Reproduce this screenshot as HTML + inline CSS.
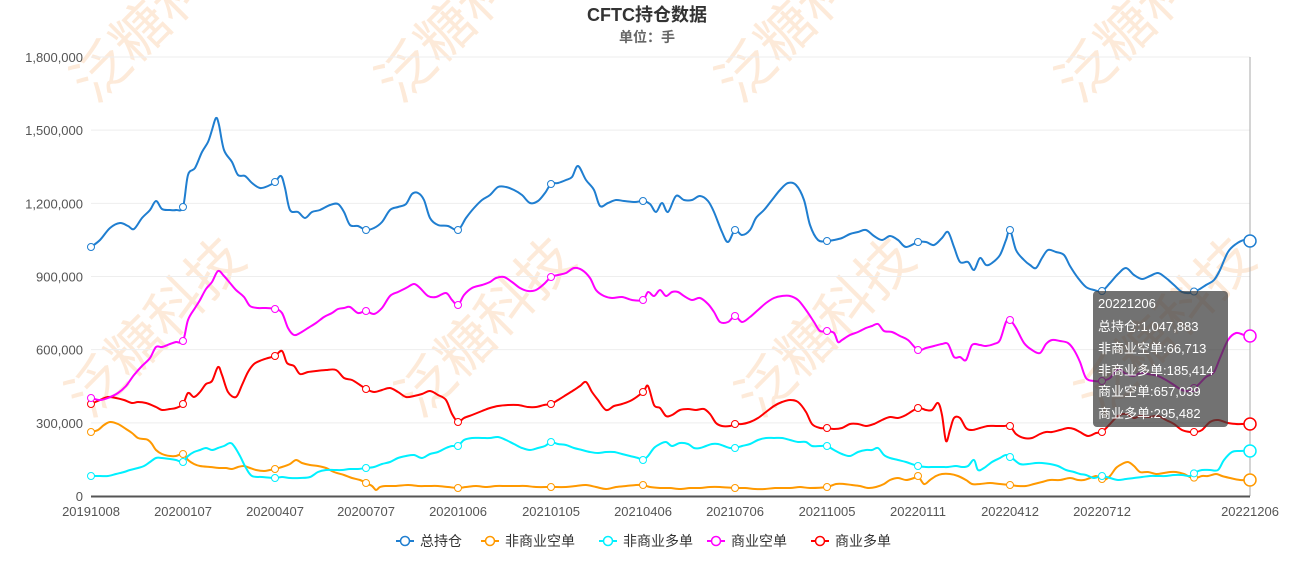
<!DOCTYPE html>
<html><head><meta charset="utf-8"><style>
body{margin:0;background:#fff;font-family:"Liberation Sans","Noto Sans CJK SC",sans-serif;}
svg{display:block}
</style></head><body>
<svg id="s" width="1295" height="562" xmlns="http://www.w3.org/2000/svg" font-family="Liberation Sans, Noto Sans CJK SC, sans-serif">
<g fill="#fde3cc" font-size="56" font-family="Noto Sans CJK SC, sans-serif" opacity="0.75">
<text transform="translate(95,105) rotate(-45)">泛糖科技</text>
<text transform="translate(400,105) rotate(-45)">泛糖科技</text>
<text transform="translate(740,105) rotate(-45)">泛糖科技</text>
<text transform="translate(1080,105) rotate(-45)">泛糖科技</text>
<text transform="translate(90,420) rotate(-45)">泛糖科技</text>
<text transform="translate(420,420) rotate(-45)">泛糖科技</text>
<text transform="translate(760,420) rotate(-45)">泛糖科技</text>
<text transform="translate(1100,420) rotate(-45)">泛糖科技</text>
</g>
<text x="647" y="21" text-anchor="middle" font-size="18" font-weight="bold" fill="#333">CFTC持仓数据</text>
<text x="647" y="42" text-anchor="middle" font-size="14" font-weight="bold" fill="#666">单位：手</text>
<g id="grid" stroke="#eee" stroke-width="1"></g>
<g id="ylab" font-size="13" fill="#555" text-anchor="end"></g>
<line x1="1250" y1="57" x2="1250" y2="496" stroke="#aaa"/>
<line x1="91" y1="496.5" x2="1250" y2="496.5" stroke="#555" stroke-width="2"/>
<g id="xlab" font-size="13" fill="#555" text-anchor="middle"></g>
<g id="series" fill="none" stroke-width="2"></g>
<g id="legend" font-size="14" fill="#333"></g>
<g>
<rect x="1093" y="291" width="135" height="136" rx="4" fill="rgba(60,60,60,0.72)"/>
<g fill="#fff" font-size="13">
<text x="1098" y="308">20221206</text>
<text x="1098" y="331">总持仓:1,047,883</text>
<text x="1098" y="353">非商业空单:66,713</text>
<text x="1098" y="375">非商业多单:185,414</text>
<text x="1098" y="396">商业空单:657,039</text>
<text x="1098" y="418">商业多单:295,482</text>
</g></g>
</svg>
<script>
const NS="http://www.w3.org/2000/svg";
function el(t,a,p,txt){const e=document.createElementNS(NS,t);for(const k in a)e.setAttribute(k,a[k]);if(txt!=null)e.textContent=txt;document.getElementById(p).appendChild(e);return e;}
const yl=["0","300,000","600,000","900,000","1,200,000","1,500,000","1,800,000"];
for(let i=0;i<7;i++){const y=496-i*439/6;if(i>0)el("line",{x1:91,x2:1250,y1:y,y2:y},"grid");el("text",{x:83,y:y+5},"ylab",yl[i]);}
const xs=[91,183,275,366,458,551,643,735,827,918,1010,1102,1250];
const xt=["20191008","20200107","20200407","20200707","20201006","20210105","20210406","20210706","20211005","20220111","20220412","20220712","20221206"];
xs.forEach((x,i)=>el("text",{x:x,y:516},"xlab",xt[i]));
function P(s){return s.match(/-?\d+(\.\d+)?/g).map(Number).reduce((a,v,i)=>{if(i%2==0)a.push([v]);else a[a.length-1].push(v);return a;},[]);}
const S={
blue:"(91,247),(100,240),(110,228),(120,223),(128,226),(134,229),(142,218),(150,210),(156,201),(162,209),(170,210),(176,210),(183,207),(188,175),(195,168),(202,152),(208,142),(212,130),(216,118),(219,125),(224,150),(232,162),(238,175),(245,176),(252,183),(260,188),(268,186),(275,182),(281,176),(285,188),(290,210),(298,212),(305,218),(312,212),(320,210),(330,205),(338,204),(344,212),(350,225),(358,226),(366,230),(374,228),(382,222),(390,210),(398,207),(406,204),(412,194),(418,193),(424,200),(430,218),(438,225),(448,226),(458,230),(466,218),(474,208),(482,200),(490,195),(498,187),(506,187),(514,190),(522,195),(530,203),(538,201),(545,193),(551,184),(558,183),(566,180),(572,177),(578,166),(586,180),(594,190),(600,206),(608,203),(616,200),(624,201),(635,202),(643,201),(650,204),(656,212),(662,203),(668,212),(676,196),(684,200),(692,200),(700,196),(708,201),(714,212),(722,232),(728,242),(735,230),(742,235),(750,230),(756,218),(764,210),(772,200),(780,190),(788,183),(796,185),(804,200),(810,225),(818,240),(827,241),(834,240),(842,238),(850,234),(858,232),(866,230),(874,236),(882,240),(890,236),(898,240),(906,247),(918,242),(926,242),(934,245),(942,238),(948,232),(954,247),(960,262),(968,262),(974,270),(980,258),(986,265),(992,263),(1000,255),(1006,240),(1010,230),(1016,250),(1024,260),(1030,265),(1036,268),(1042,258),(1048,250),(1056,252),(1064,255),(1070,266),(1078,278),(1086,287),(1094,290),(1102,291),(1110,283),(1118,274),(1126,268),(1134,275),(1142,279),(1150,276),(1158,273),(1166,278),(1174,285),(1182,292),(1190,293),(1198,290),(1206,285),(1214,280),(1220,270),(1228,252),(1236,244),(1244,240),(1250,241)",
mag:"(91,398),(100,400),(108,398),(118,393),(126,386),(134,375),(142,366),(150,358),(156,347),(162,347),(170,344),(176,342),(183,341),(188,320),(195,308),(200,300),(206,289),(212,282),(218,271),(224,276),(230,283),(236,290),(244,297),(250,306),(258,308),(266,308),(275,309),(282,313),(288,328),(294,335),(300,333),(308,328),(316,323),(324,317),(332,313),(338,309),(344,308),(350,307),(358,313),(366,311),(374,314),(382,308),(390,296),(398,292),(406,288),(414,284),(420,288),(428,296),(436,297),(446,293),(452,300),(458,305),(464,295),(472,288),(482,285),(490,282),(496,278),(504,277),(512,282),(520,288),(528,291),(536,290),(544,284),(551,277),(558,275),(566,273),(574,268),(582,270),(590,278),(596,290),(604,296),(612,298),(622,297),(632,300),(643,300),(648,292),(654,296),(660,290),(666,296),(672,292),(678,292),(684,296),(692,300),(700,298),(708,304),(714,312),(720,322),(728,322),(735,316),(742,322),(750,317),(758,310),(766,303),(774,298),(782,296),(790,296),(798,300),(806,310),(814,322),(820,331),(827,331),(834,333),(838,342),(842,340),(850,335),(858,332),(866,328),(872,326),(878,324),(884,331),(892,332),(900,336),(908,340),(918,350),(926,348),(934,346),(942,344),(948,344),(954,357),(960,357),(966,360),(972,345),(980,345),(986,346),(994,344),(1000,340),(1006,322),(1010,320),(1016,328),(1024,343),(1032,350),(1040,353),(1046,344),(1052,340),(1060,341),(1068,343),(1074,350),(1080,362),(1086,378),(1094,381),(1102,381),(1110,378),(1118,369),(1126,374),(1134,376),(1140,373),(1148,374),(1158,376),(1166,380),(1174,385),(1182,390),(1190,391),(1198,385),(1206,377),(1214,372),(1220,358),(1228,340),(1236,333),(1244,335),(1250,336)",
red:"(91,404),(100,400),(108,397),(116,398),(124,400),(132,403),(138,402),(146,403),(156,407),(162,410),(170,409),(176,408),(183,404),(188,393),(194,397),(200,392),(206,384),(212,381),(218,367),(222,375),(228,392),(236,397),(242,385),(248,372),(254,364),(262,360),(268,358),(275,356),(282,351),(287,363),(294,366),(300,374),(308,372),(316,371),(326,370),(336,370),(344,378),(352,380),(360,385),(366,389),(374,392),(382,390),(390,388),(398,392),(406,397),(414,396),(422,394),(430,391),(438,395),(446,400),(452,414),(458,422),(464,418),(472,415),(482,411),(490,408),(498,406),(508,405),(518,405),(528,407),(536,407),(544,405),(551,404),(558,400),(566,395),(574,390),(580,386),(586,382),(592,392),(598,400),(606,410),(614,406),(622,404),(632,400),(643,392),(648,386),(654,405),(660,408),(666,416),(672,415),(680,410),(688,409),(696,410),(704,409),(710,414),(716,423),(722,426),(730,426),(735,424),(742,424),(750,422),(758,418),(766,412),(774,406),(782,402),(790,400),(798,402),(806,412),(812,424),(820,428),(827,428),(834,429),(842,428),(850,424),(858,424),(866,426),(874,424),(882,420),(890,417),(898,418),(906,415),(918,408),(926,410),(932,410),(938,403),(942,415),(946,441),(950,430),(954,418),(960,418),(966,428),(972,430),(980,428),(988,426),(996,426),(1004,426),(1010,426),(1016,434),(1024,438),(1032,438),(1040,434),(1046,432),(1052,432),(1060,430),(1068,428),(1074,429),(1080,432),(1088,436),(1096,433),(1102,432),(1110,424),(1118,416),(1126,414),(1134,418),(1140,416),(1148,417),(1158,416),(1166,420),(1174,424),(1182,430),(1190,432),(1196,432),(1202,430),(1210,422),(1218,420),(1228,423),(1236,424),(1244,424),(1250,424)",
orange:"(91,432),(98,430),(104,425),(110,422),(118,424),(126,429),(132,433),(138,438),(144,439),(148,440),(152,444),(156,450),(162,454),(170,456),(176,456),(183,454),(188,460),(194,464),(200,466),(210,467),(220,468),(226,468),(232,469),(238,467),(244,466),(250,468),(256,470),(264,471),(270,470),(275,469),(282,467),(290,464),(296,460),(302,463),(310,465),(318,466),(326,468),(334,472),(344,475),(352,478),(360,480),(366,483),(372,486),(376,490),(380,487),(386,486),(396,486),(408,485),(418,486),(428,486),(438,486),(448,487),(458,488),(466,487),(476,486),(486,487),(496,486),(506,486),(516,486),(526,486),(536,487),(551,487),(566,487),(576,486),(586,485),(596,487),(606,489),(616,487),(626,486),(636,485),(643,485),(650,487),(660,488),(670,488),(680,489),(690,488),(700,488),(710,487),(720,487),(735,488),(745,488),(755,489),(765,489),(775,488),(790,488),(800,487),(810,488),(827,487),(836,484),(844,484),(852,485),(860,486),(868,488),(876,487),(884,484),(890,480),(898,478),(906,480),(914,478),(918,476),(924,484),(930,480),(936,476),(942,474),(950,474),(958,476),(966,480),(972,484),(980,484),(990,483),(1000,484),(1010,485),(1018,486),(1026,486),(1034,484),(1042,482),(1050,480),(1060,480),(1070,478),(1078,480),(1084,480),(1090,478),(1096,476),(1100,478),(1104,480),(1110,476),(1116,468),(1122,464),(1128,462),(1134,466),(1140,472),(1148,472),(1156,474),(1164,473),(1170,472),(1176,472),(1184,474),(1190,477),(1196,478),(1202,476),(1208,476),(1216,474),(1222,476),(1230,478),(1240,480),(1250,480)",
cyan:"(91,476),(100,476),(108,476),(116,474),(124,472),(130,470),(138,468),(144,466),(150,462),(156,458),(162,458),(170,459),(176,460),(183,462),(188,456),(194,452),(200,450),(206,448),(212,450),(218,448),(224,446),(230,443),(234,446),(240,456),(246,468),(252,476),(262,477),(275,478),(282,477),(290,478),(300,478),(310,477),(318,472),(326,470),(334,470),(342,470),(350,469),(358,469),(366,468),(374,467),(382,464),(390,462),(398,458),(406,456),(414,455),(422,458),(430,454),(438,452),(446,448),(452,446),(458,446),(464,440),(472,438),(482,438),(490,438),(498,437),(506,440),(514,444),(522,448),(530,450),(538,448),(545,446),(551,442),(558,444),(566,445),(574,448),(582,450),(590,452),(598,453),(606,452),(614,452),(622,454),(630,456),(638,458),(643,460),(648,456),(654,448),(660,444),(666,442),(672,446),(680,443),(688,444),(694,448),(700,448),(706,446),(712,444),(718,444),(724,446),(730,448),(735,448),(742,446),(750,444),(758,440),(766,438),(774,438),(782,438),(790,440),(798,442),(806,442),(812,446),(820,446),(827,446),(834,450),(842,454),(850,456),(858,452),(866,450),(872,450),(878,448),(884,455),(890,458),(898,460),(906,462),(918,466),(926,467),(934,467),(942,467),(948,467),(956,466),(962,467),(968,466),(974,460),(978,470),(984,468),(992,462),(1000,458),(1006,455),(1012,458),(1020,464),(1028,464),(1036,463),(1042,463),(1050,464),(1058,466),(1066,470),(1074,472),(1080,474),(1086,475),(1094,478),(1102,476),(1110,478),(1118,480),(1126,479),(1134,478),(1142,477),(1150,476),(1158,476),(1166,476),(1174,475),(1182,475),(1190,476),(1196,472),(1202,470),(1210,470),(1218,470),(1224,460),(1232,452),(1240,451),(1250,451)"};
function path(p){let d="M"+p[0][0]+","+p[0][1];for(let i=0;i<p.length-1;i++){const a=p[i-1]||p[i],b=p[i],c=p[i+1],e=p[i+2]||c;d+=" C"+(b[0]+(c[0]-a[0])/6).toFixed(1)+","+(b[1]+(c[1]-a[1])/6).toFixed(1)+" "+(c[0]-(e[0]-b[0])/6).toFixed(1)+","+(c[1]-(e[1]-b[1])/6).toFixed(1)+" "+c[0]+","+c[1];}return d;}
function yAt(p,x){for(let i=0;i<p.length-1;i++){if(x>=p[i][0]&&x<=p[i+1][0]){const t=(x-p[i][0])/(p[i+1][0]-p[i][0]||1);return p[i][1]+t*(p[i+1][1]-p[i][1]);}}return p[p.length-1][1];}
const order=[["orange","#ff9900"],["cyan","#00f0ff"],["red","#ff0000"],["mag","#ff00ff"],["blue","#1f7ed0"]];
const mx=[91,183,275,366,458,551,643,735,827,918,1010,1102,1194];
order.forEach(([k,c])=>{const p=P(S[k]);el("path",{d:path(p),stroke:c},"series");
mx.forEach(x=>el("circle",{cx:x,cy:yAt(p,x),r:3.5,fill:"#fff",stroke:c,"stroke-width":1},"series"));
el("circle",{cx:1250,cy:p[p.length-1][1],r:6,fill:"#fff",stroke:c,"stroke-width":1.5},"series");});
const lg=[["总持仓","#1f7ed0",405],["非商业空单","#ff9900",490],["非商业多单","#00f0ff",608],["商业空单","#ff00ff",716],["商业多单","#ff0000",820]];
lg.forEach(([t,c,x])=>{el("line",{x1:x-9,x2:x+9,y1:541,y2:541,stroke:c,"stroke-width":2},"legend");el("circle",{cx:x,cy:541,r:4.5,fill:"#fff",stroke:c,"stroke-width":1.5},"legend");el("text",{x:x+15,y:546},"legend",t);});
</script>
</body></html>
